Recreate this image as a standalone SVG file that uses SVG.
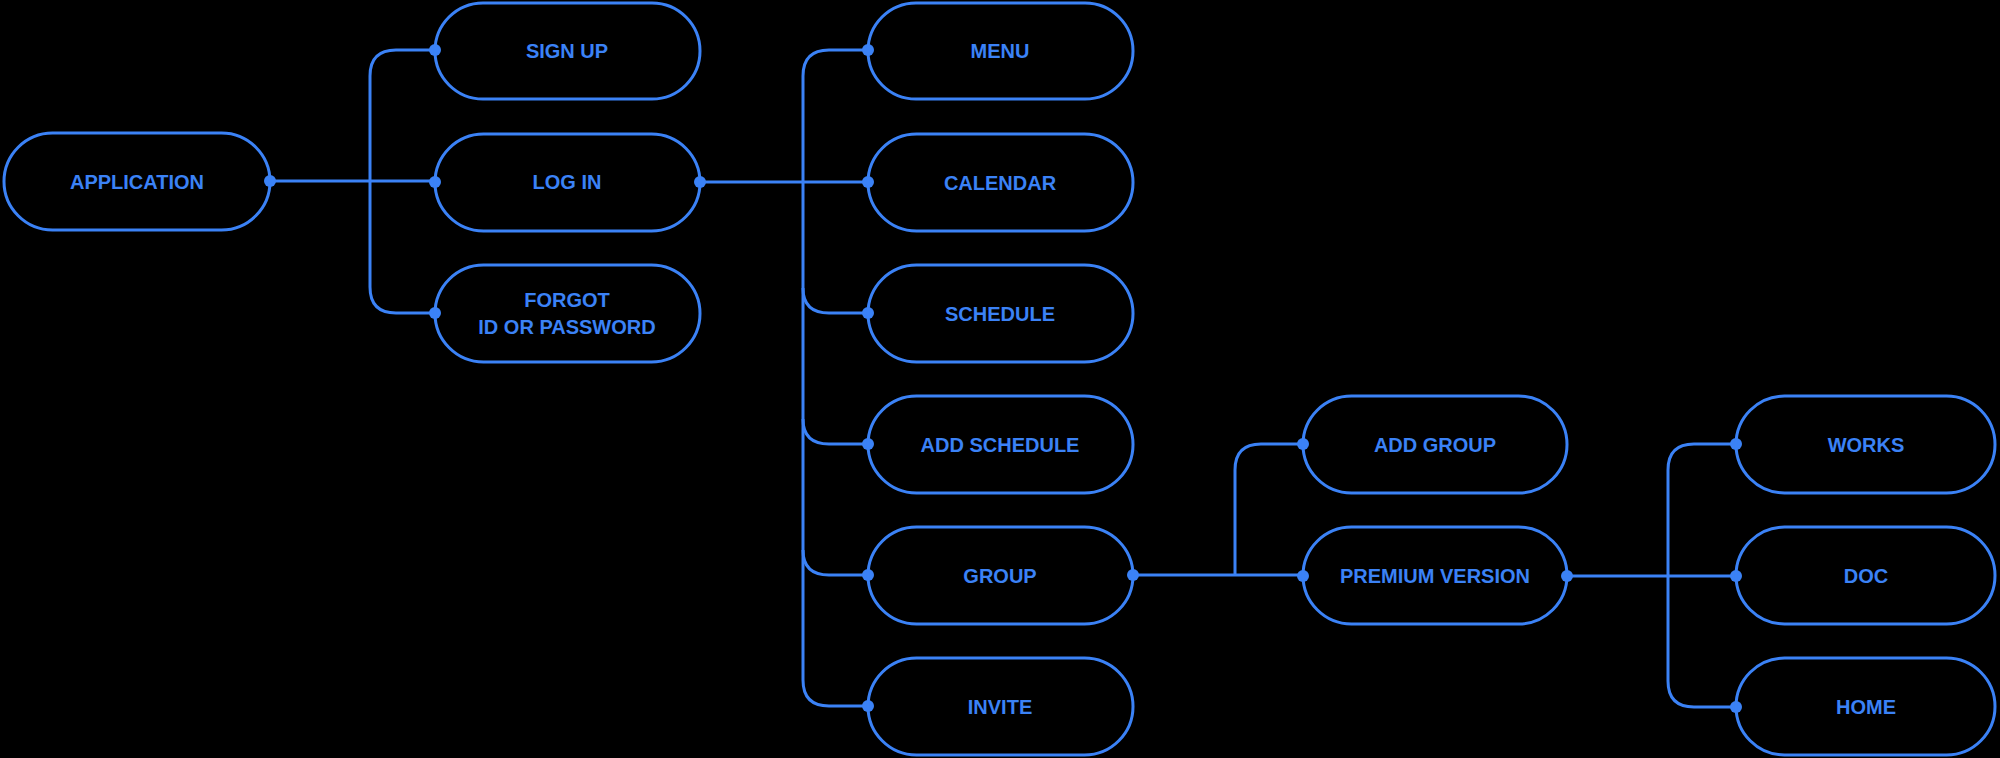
<svg xmlns="http://www.w3.org/2000/svg" width="2000" height="758" viewBox="0 0 2000 758">
  <style>
    .node rect { fill: none; stroke: #3b82f6; stroke-width: 3; }
    .node text { fill: #3b82f6; font-family: "Liberation Sans", Arial, sans-serif; font-weight: bold; font-size: 20px; text-anchor: middle; dominant-baseline: central; }
    .links path { fill: none; stroke: #3b82f6; stroke-width: 3; }
    .links circle { fill: #3b82f6; }
  </style>
  <rect x="0" y="0" width="2000" height="758" fill="#000000"/>

  <!-- connectors -->
  <g id="connectors" class="links">
    <!-- APPLICATION -> auth options -->
    <path d="M270 181 H435"/>
    <path d="M435 50 H396 Q370 50 370 76 V287 Q370 313 396 313 H435"/>
    <!-- LOG IN -> main sections -->
    <path d="M700 182 H868"/>
    <path d="M868 50 H829 Q803 50 803 76 V680 Q803 706 829 706 H868"/>
    <path d="M803 288 Q803 313 829 313 H868"/>
    <path d="M803 419 Q803 444 829 444 H868"/>
    <path d="M803 550 Q803 575 829 575 H868"/>
    <!-- GROUP -> group options -->
    <path d="M1133 575 H1303"/>
    <path d="M1235 575 V470 Q1235 444 1261 444 H1303"/>
    <!-- PREMIUM VERSION -> premium options -->
    <path d="M1567 576 H1736"/>
    <path d="M1736 444 H1694 Q1668 444 1668 470 V681 Q1668 707 1694 707 H1736"/>
    <!-- connection dots -->
    <circle cx="270" cy="181" r="6"/>
    <circle cx="435" cy="50" r="6"/>
    <circle cx="435" cy="182" r="6"/>
    <circle cx="435" cy="313" r="6"/>
    <circle cx="700" cy="182" r="6"/>
    <circle cx="868" cy="50" r="6"/>
    <circle cx="868" cy="182" r="6"/>
    <circle cx="868" cy="313" r="6"/>
    <circle cx="868" cy="444" r="6"/>
    <circle cx="868" cy="575" r="6"/>
    <circle cx="868" cy="706" r="6"/>
    <circle cx="1133" cy="575" r="6"/>
    <circle cx="1303" cy="444" r="6"/>
    <circle cx="1303" cy="576" r="6"/>
    <circle cx="1567" cy="576" r="6"/>
    <circle cx="1736" cy="444" r="6"/>
    <circle cx="1736" cy="576" r="6"/>
    <circle cx="1736" cy="707" r="6"/>
  </g>

  <!-- nodes -->
  <g id="application" class="node">
    <rect x="4" y="133" width="266" height="97" rx="48.5"/>
    <text x="137" y="182">APPLICATION</text>
  </g>
  <g id="sign-up" class="node">
    <rect x="435" y="3" width="265" height="96" rx="48"/>
    <text x="567" y="51">SIGN UP</text>
  </g>
  <g id="log-in" class="node">
    <rect x="435" y="134" width="265" height="97" rx="48.5"/>
    <text x="567" y="182">LOG IN</text>
  </g>
  <g id="forgot" class="node">
    <rect x="435" y="265" width="265" height="97" rx="48.5"/>
    <text x="567" y="300">FORGOT</text>
    <text x="567" y="327">ID OR PASSWORD</text>
  </g>
  <g id="menu" class="node">
    <rect x="868" y="3" width="265" height="96" rx="48"/>
    <text x="1000" y="51">MENU</text>
  </g>
  <g id="calendar" class="node">
    <rect x="868" y="134" width="265" height="97" rx="48.5"/>
    <text x="1000" y="183">CALENDAR</text>
  </g>
  <g id="schedule" class="node">
    <rect x="868" y="265" width="265" height="97" rx="48.5"/>
    <text x="1000" y="314">SCHEDULE</text>
  </g>
  <g id="add-schedule" class="node">
    <rect x="868" y="396" width="265" height="97" rx="48.5"/>
    <text x="1000" y="445">ADD SCHEDULE</text>
  </g>
  <g id="group" class="node">
    <rect x="868" y="527" width="265" height="97" rx="48.5"/>
    <text x="1000" y="576">GROUP</text>
  </g>
  <g id="invite" class="node">
    <rect x="868" y="658" width="265" height="97" rx="48.5"/>
    <text x="1000" y="707">INVITE</text>
  </g>
  <g id="add-group" class="node">
    <rect x="1303" y="396" width="264" height="97" rx="48.5"/>
    <text x="1435" y="445">ADD GROUP</text>
  </g>
  <g id="premium-version" class="node">
    <rect x="1303" y="527" width="264" height="97" rx="48.5"/>
    <text x="1435" y="576">PREMIUM VERSION</text>
  </g>
  <g id="works" class="node">
    <rect x="1736" y="396" width="259" height="97" rx="48.5"/>
    <text x="1866" y="445">WORKS</text>
  </g>
  <g id="doc" class="node">
    <rect x="1736" y="527" width="259" height="97" rx="48.5"/>
    <text x="1866" y="576">DOC</text>
  </g>
  <g id="home" class="node">
    <rect x="1736" y="658" width="259" height="97" rx="48.5"/>
    <text x="1866" y="707">HOME</text>
  </g>
</svg>
